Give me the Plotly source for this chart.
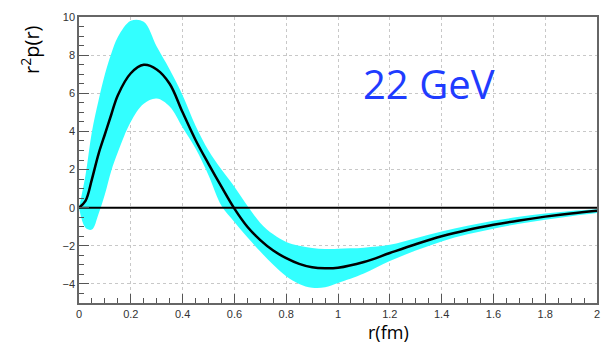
import plotly.graph_objects as go

r = [0, 0.025, 0.05, 0.075, 0.1, 0.125, 0.15, 0.2, 0.25, 0.3, 0.35, 0.4, 0.45, 0.5,
     0.55, 0.6, 0.65, 0.7, 0.75, 0.8, 0.85, 0.9, 0.95, 1.0, 1.1, 1.2, 1.3, 1.4, 1.5,
     1.6, 1.7, 1.8, 1.9, 2.0]
central = [0, 0.35, 1.5, 2.8, 3.85, 4.9, 5.9, 7.05, 7.49, 7.25, 6.5, 5.0, 3.55, 2.3,
           1.1, -0.05, -1.0, -1.7, -2.25, -2.65, -2.95, -3.13, -3.18, -3.15, -2.85,
           -2.38, -1.92, -1.5, -1.17, -0.9, -0.67, -0.47, -0.3, -0.16]
upper = [0, 1.7, 4.0, 5.6, 7.0, 8.1, 8.95, 9.8, 9.75, 8.45, 7.25, 5.9, 4.3, 3.0,
         2.0, 1.1, 0.1, -0.8, -1.4, -1.8, -2.0, -2.12, -2.17, -2.15, -2.1, -1.95,
         -1.6, -1.25, -0.95, -0.69, -0.48, -0.3, -0.17, -0.08]
lower = [0, -1.05, -1.15, -0.35, 0.7, 1.95, 2.9, 4.5, 5.45, 5.72, 5.3, 4.2, 3.1, 1.7,
         0.1, -0.75, -1.55, -2.3, -3.0, -3.6, -4.0, -4.2, -4.18, -3.95, -3.45, -2.8,
         -2.25, -1.77, -1.4, -1.1, -0.85, -0.64, -0.45, -0.28]
zero_x = [0, 2]
zero_y = [0, 0]

x_title = "r(fm)"
y_title = "r<sup>2</sup>p(r)"
label = "22 GeV"

cyan = "#33ffff"
fig = go.Figure()
fig.add_trace(go.Scatter(x=r, y=lower, mode="lines",
                         line=dict(width=0, color=cyan, shape="spline", smoothing=1),
                         showlegend=False, hoverinfo="skip"))
fig.add_trace(go.Scatter(x=r, y=upper, mode="lines",
                         line=dict(width=0, color=cyan, shape="spline", smoothing=1),
                         fill="tonexty", fillcolor=cyan, showlegend=False, hoverinfo="skip"))
fig.add_trace(go.Scatter(x=zero_x, y=zero_y, mode="lines", line=dict(width=2, color="black"),
                         showlegend=False))
fig.add_trace(go.Scatter(x=r, y=central, mode="lines",
                         line=dict(width=2.5, color="black", shape="spline", smoothing=1),
                         showlegend=False))

tickfont = dict(family="Liberation Sans, Arial, sans-serif", size=11, color="#333333")
common = dict(showgrid=True, gridcolor="#c8c8c8", griddash="dot", gridwidth=1,
              zeroline=False, showline=True, linecolor="#666666", linewidth=1.5,
              mirror=True, ticks="inside", tickcolor="#555555", tickfont=tickfont)
fig.update_xaxes(range=[0, 2], dtick=0.2, tick0=0, ticklen=9,
                 minor=dict(ticks="inside", dtick=0.05, ticklen=5, tickcolor="#555555", showgrid=False),
                 **common)
fig.update_yaxes(range=[-5, 10], dtick=2, tick0=0, ticklen=10,
                 minor=dict(ticks="inside", dtick=0.5, ticklen=5, tickcolor="#555555", showgrid=False),
                 **common)

fig.add_annotation(text=x_title, xref="paper", yref="paper", x=(390 - 79) / 521, y=-(332.5 - 303) / 289,
                   showarrow=False, font=dict(family="Open Sans, sans-serif", size=18, color="black"),
                   xanchor="center", yanchor="middle")
fig.add_annotation(text=y_title, xref="paper", yref="paper", x=-(79 - 30) / 521, y=(303 - 47) / 289,
                   showarrow=False, textangle=-90,
                   font=dict(family="Open Sans, sans-serif", size=20, color="black"),
                   xanchor="center", yanchor="middle")
fig.add_annotation(text=label, xref="paper", yref="paper", x=(431 - 79) / 521, y=(303 - 81) / 289,
                   showarrow=False, font=dict(family="Open Sans, sans-serif", size=40, color="#1f3cff"),
                   xanchor="center", yanchor="middle")

fig.update_layout(width=611, height=344, margin=dict(l=79, r=11, t=14, b=41),
                  plot_bgcolor="white", paper_bgcolor="white")
fig.write_html("out.html")
